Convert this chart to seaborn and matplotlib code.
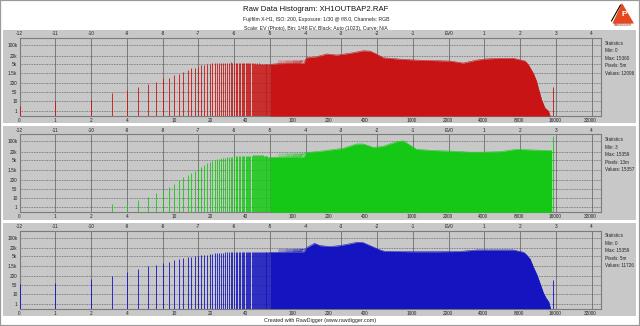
import numpy as np
import pandas as pd
import matplotlib
matplotlib.use("Agg")
import matplotlib.pyplot as plt
from matplotlib.patches import Rectangle, Polygon
import seaborn as sns

# ---------------------------------------------------------------- text
TITLE = "Raw Data Histogram: XH1OUTBAP2.RAF"
SUBTITLE_1 = "Fujifilm X-H1, ISO: 200, Exposure: 1/30 @ f/8.0, Channels: RGB"
SUBTITLE_2 = "Scale: EV (Photo), Bin: 1/48 EV, Black: Auto (1023), Curve: N/A"
FOOTER = "Created with RawDigger (www.rawdigger.com)"

# ---------------------------------------------------------------- axes
EV0_RAW = 2048
EV_TICKS = list(range(-12, 5))
EV_LABELS = ["EV0" if t == 0 else str(t) for t in EV_TICKS]
RAW_TICKS = [0, 1, 2, 4, 10, 20, 40, 100, 200, 400, 1000, 2000, 4000, 8000, 16000, 32000]
COUNT_TICKS = [1, 10, 50, 200, 1500, 5000, 20000, 100000]
COUNT_LABELS = ["1", "10", "50", "200", "1.5k", "5k", "20k", "100k"]

# ---------------------------------------------------------------- data
# pixel counts of the individual low raw values 0..63
red_low = [3, 10, 12, 45, 68, 112, 177, 255, 550, 620, 1100, 1200, 1700, 2300, 2800, 3100,
           3500, 4000, 4400, 4800, 5000, 5300, 5500, 5700, 5800, 6000, 6000, 6100, 6000, 5900, 6200, 5800,
           6000, 5700, 5900, 5600, 5800, 5500, 5700, 5400, 5600, 5300, 5500, 5200, 5400, 5200, 5300, 5100,
           5300, 5100, 5200, 5000, 5200, 5000, 5100, 4900, 5100, 4900, 5000, 4800, 5000, 4800, 4900, 4700]
green_low = [0, 0, 0, 2, 3, 6, 12, 24, 35, 68, 101, 187, 318, 505, 820, 1230,
             1770, 2200, 2700, 3300, 4100, 4600, 5000, 5500, 6100, 6700, 7200, 7700, 8000, 8400, 8800, 9000,
             9200, 9300, 9500, 9600, 9700, 9800, 9900, 10000, 10000, 10200, 10300, 10500, 10600, 10700, 11000, 11300,
             11600, 11800, 12000, 12000, 11900, 11800, 11600, 11500, 11200, 10900, 10500, 10200, 9800, 9400, 9000, 8700]
blue_low = [55, 65, 125, 205, 450, 760, 1400, 1700, 2100, 2600, 3000, 3700, 4000, 4400, 4800, 5300,
            5500, 5800, 6200, 6600, 7000, 7700, 8400, 8800, 9100, 9300, 9500, 9700, 9800, 9900, 10000, 10100,
            10200, 10300, 10400, 10500, 10600, 10700, 10800, 10900, 11000, 11000, 11100, 11100, 11200, 11200, 11300, 11300,
            11300, 11200, 11200, 11100, 11100, 11000, 11000, 10900, 10900, 10800, 10800, 10700, 10600, 10500, 10400, 10300]

# pixel counts at the saturation value
clip_raw = {"R": 15360, "G": 15359, "B": 15359}
clip_count = {"R": 105, "G": 220000, "B": 108}

# per-bin counts of the dense part of each histogram (EV, count)
red_ev = [-5.0, -4.78, -4.05, -3.97, -3.69, -3.41, -3.13, -2.76, -2.39, -2.2, -2.01, -1.83, -1.36, -0.9,
          -0.43, 0.04, 0.41, 0.78, 1.06, 1.44, 1.81, 2.14, 2.23, 2.37, 2.46, 2.51, 2.6, 2.69, 2.79, 2.84]
red_cnt = [4600, 5000, 5500, 14000, 16700, 26000, 22000, 28700, 42000, 40000, 25000, 14000, 11000, 9300,
           8600, 7900, 5600, 9300, 11500, 12700, 12700, 7900, 4400, 1500, 300, 92, 13, 2.2, 1, 0]
green_ev = [-5.0, -4.78, -4.05, -3.97, -3.69, -3.32, -2.95, -2.57, -2.39, -2.1, -1.83, -1.45, -1.27, -1.08,
            -0.9, -0.43, 0.04, 0.6, 0.97, 1.44, 1.9, 2.37, 2.83, 2.88]
green_cnt = [7900, 8200, 8500, 18500, 21000, 27000, 35000, 67000, 67000, 40000, 47000, 96000, 107000, 56000,
             30000, 25000, 23000, 19500, 19500, 21000, 30000, 27000, 25000, 25000]
blue_ev = [-5.0, -4.78, -4.05, -3.97, -3.75, -3.6, -3.32, -3.04, -2.8, -2.55, -2.4, -2.2, -1.92, -1.8,
           -1.0, -0.3, 0.3, 0.8, 1.3, 1.8, 2.1, 2.18, 2.28, 2.37, 2.47, 2.56, 2.65, 2.72, 2.8, 2.85]
blue_cnt = [10000, 10000, 11000, 22000, 42000, 30000, 26000, 30000, 38000, 50000, 48000, 30000, 15000, 12000,
            11000, 11000, 11500, 15000, 15000, 15000, 10000, 6400, 3500, 1200, 250, 60, 12, 4, 1.5, 0]

# bins holding two raw values poke above the dense part between these EVs
band_ev = [-4.78, -3.97]
band_top = {"R": 9500, "G": 17000, "B": 20000}

STATS = {
    "R": ["Statistics", "Min: 0", "Max: 15360", "Pixels: 5m", "Values: 12096"],
    "G": ["Statistics", "Min: 3", "Max: 15359", "Pixels: 13m", "Values: 15357"],
    "B": ["Statistics", "Min: 0", "Max: 15359", "Pixels: 5m", "Values: 11726"],
}

CHANNELS = ["R", "G", "B"]
LOW = {"R": red_low, "G": green_low, "B": blue_low}
DENSE = {"R": (red_ev, red_cnt), "G": (green_ev, green_cnt), "B": (blue_ev, blue_cnt)}
COLORS = {"R": "#c81414", "G": "#16c816", "B": "#1414c0"}

PANEL_GRAY = "#c8c8c8"
GRID_GRAY = "#7c7c7c"


def raw_to_ev(v):
    v = np.asarray(v, dtype=float)
    return np.log2(np.maximum(v, 0.5) / EV0_RAW)


# count axis: the labelled counts sit at (nearly) even steps
SCALE_VALS = np.log10([0.25, 1, 10, 50, 200, 1500, 5000, 20000, 100000, 1e6])
SCALE_POS = np.array([-5, 0, 9.7, 18.7, 27.7, 37.7, 47.3, 55.3, 66, 81.3])


def fwd(v):
    v = np.asarray(v, dtype=float)
    return np.interp(np.log10(np.clip(v, 1e-9, None)), SCALE_VALS, SCALE_POS)


def inv(p):
    p = np.asarray(p, dtype=float)
    return 10 ** np.interp(p, SCALE_POS, SCALE_VALS)


sns.set_theme(style="white")
plt.rcParams["font.family"] = ["Liberation Sans", "DejaVu Sans"]

W, H = 640, 326
fig = plt.figure(figsize=(W / 100, H / 100), dpi=100)
fig.patch.set_facecolor("white")


def fx(x):
    return x / W


def fy(y):
    return 1 - y / H


# titles
fig.text(fx(316), fy(9.5), TITLE, ha="center", va="center", fontsize=5.6, color="#111111")
fig.text(fx(316), fy(19.5), SUBTITLE_1, ha="center", va="center", fontsize=3.7, color="#222222")
fig.text(fx(316), fy(28.5), SUBTITLE_2, ha="center", va="center", fontsize=3.7, color="#222222")
fig.text(fx(320), fy(320.5), FOOTER, ha="center", va="center", fontsize=3.9, color="#222222")

# logo
fig.add_artist(Polygon([(fx(622), fy(3)), (fx(612.5), fy(23.5)), (fx(634), fy(23.5))],
                       closed=True, transform=fig.transFigure, facecolor="#e8461e", edgecolor="none"))
fig.add_artist(plt.Line2D([fx(611.5), fx(620.5)], [fy(21), fy(5)], transform=fig.transFigure,
                          color="black", lw=0.8))
fig.text(fx(624.5), fy(15), "P", ha="center", va="center", fontsize=6, color="white", fontweight="bold")
fig.text(fx(623), fy(25.5), "RAWDIGGER", ha="center", va="center", fontsize=2.2, color="#8a1a10")

raw_tick_pos = raw_to_ev(RAW_TICKS)
y_floor = float(inv(-5))

for i, ch in enumerate(CHANNELS):
    off = 96.3 * i
    # grey panel
    fig.add_artist(Rectangle((fx(3.3), fy(30 + off + 93.4)), fx(632.7), 93.4 / H,
                             transform=fig.transFigure, facecolor=PANEL_GRAY, edgecolor="none", zorder=0))
    top, bottom = 38 + off, 116 + off
    ax = fig.add_axes([fx(19.5), fy(bottom), fx(601.3 - 19.5), (bottom - top) / H])
    ax.set_facecolor(PANEL_GRAY)
    ax.set_yscale("function", functions=(fwd, inv))

    # individual raw values plus the saturation value, one crisp 1 px spike each
    low = LOW[ch]
    raw_vals = list(range(len(low))) + [clip_raw[ch]]
    counts = list(low) + [clip_count[ch]]
    spikes = pd.DataFrame({"ev": raw_to_ev(raw_vals), "count": counts})
    spikes = spikes[spikes["count"] > 0]
    sp = ax.vlines(spikes["ev"], y_floor, spikes["count"], color=COLORS[ch], lw=0.72,
                   alpha=0.85, zorder=4)
    sp.set_snap(True)

    # dense part of the histogram
    ev, cnt = DENSE[ch]
    dense = pd.DataFrame({"ev": ev, "count": cnt})
    ax.fill_between(dense["ev"], dense["count"], 0, color=COLORS[ch], linewidth=0, zorder=3)
    sns.lineplot(data=dense, x="ev", y="count", ax=ax, color=COLORS[ch], linewidth=0.4,
                 estimator=None, sort=False, zorder=3)

    # two-value bins: sparse at first, denser towards the upper end of the band
    edges = np.linspace(band_ev[0], band_ev[1], 5)
    seg = dense[(dense["ev"] >= band_ev[0]) & (dense["ev"] <= band_ev[1])]
    for k, a in enumerate([0.25, 0.4, 0.55, 0.7]):
        base = np.interp(edges[k:k + 2], seg["ev"], seg["count"])
        ax.fill_between(edges[k:k + 2], base, band_top[ch], color=COLORS[ch], alpha=a,
                        linewidth=0, zorder=3)

    ax.set_xlim(-12, 4.27)
    ax.set_ylim(y_floor, inv(73))

    # grid
    for t in EV_TICKS:
        gl = ax.axvline(t, color=GRID_GRAY, lw=0.72, zorder=1)
        gl.set_snap(True)
    for c in COUNT_TICKS:
        ax.axhline(c, color="#555555", lw=0.5, ls=(0, (1.2, 1.2)), zorder=2)

    ax.set_xticks(EV_TICKS)
    ax.set_xticklabels(EV_LABELS)
    ax.xaxis.tick_top()
    ax.tick_params(axis="x", length=0, pad=1.2, labelsize=3.4, colors="#222222")
    ax.set_yticks(COUNT_TICKS)
    ax.set_yticklabels(COUNT_LABELS)
    ax.yaxis.set_minor_locator(plt.NullLocator())
    ax.tick_params(axis="y", length=0, pad=1.5, labelsize=3.4, colors="#222222")
    ax.set_xlabel("")
    ax.set_ylabel("")

    sec = ax.secondary_xaxis("bottom")
    sec.set_xticks(raw_tick_pos)
    sec.set_xticklabels([str(v) for v in RAW_TICKS])
    sec.tick_params(length=0, pad=1.5, labelsize=3.4, colors="#222222")
    for s in sec.spines.values():
        s.set_visible(False)

    for s in ax.spines.values():
        s.set_color(GRID_GRAY)
        s.set_linewidth(0.8)

    for k, line in enumerate(STATS[ch]):
        fig.text(fx(605), fy(43.3 + off + 7.5 * k), line, ha="left", va="center",
                 fontsize=3.3, color="#222222")

# outer border
fig.add_artist(Rectangle((0, 0), 1, 1, transform=fig.transFigure, fill=False,
                         edgecolor="#9a9a9a", lw=1.6))

fig.savefig("out.png", dpi=100, facecolor="white")
